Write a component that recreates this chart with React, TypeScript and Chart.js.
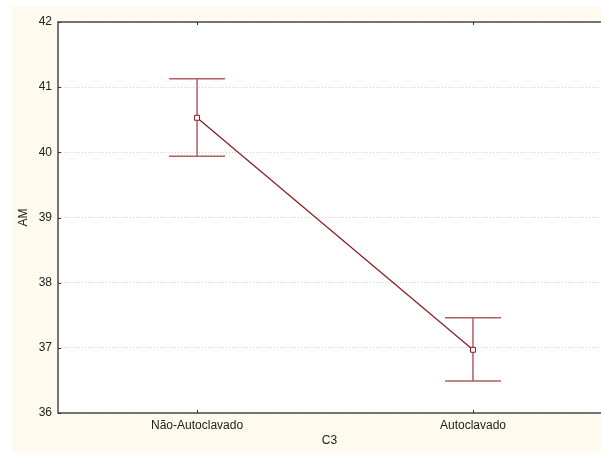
import React, { useEffect, useRef } from "react";
import { Chart, registerables } from "chart.js";

Chart.register(...registerables);

const categories = ["Não-Autoclavado", "Autoclavado"];
const means = [40.53, 36.97];
const upper = [41.13, 37.46];
const lower = [39.94, 36.49];
const yTicks = [36, 37, 38, 39, 40, 41, 42];

const RED = "#8b1a1e";
const ERR = "rgba(150,40,48,0.75)";

const framePlugin = {
  id: "frame",
  beforeDraw(chart: any) {
    const { ctx, chartArea } = chart;
    ctx.save();
    ctx.fillStyle = "#fffaee";
    ctx.fillRect(12, 6, chart.width - 12, chart.height - 8);
    ctx.fillStyle = "#ffffff";
    ctx.fillRect(chartArea.left, chartArea.top, chartArea.right - chartArea.left, chartArea.bottom - chartArea.top);
    ctx.restore();
  },
  beforeDatasetsDraw(chart: any) {
    const { ctx } = chart;
    const xs = chart.scales.x;
    const ys = chart.scales.y;
    ctx.save();
    ctx.strokeStyle = ERR;
    ctx.lineWidth = 1.5;
    for (let i = 0; i < means.length; i++) {
      const x = xs.getPixelForValue(i);
      const yh = ys.getPixelForValue(upper[i]);
      const yl = ys.getPixelForValue(lower[i]);
      ctx.beginPath();
      ctx.moveTo(x, yh);
      ctx.lineTo(x, yl);
      ctx.moveTo(x - 28, yh);
      ctx.lineTo(x + 28, yh);
      ctx.moveTo(x - 28, yl);
      ctx.lineTo(x + 28, yl);
      ctx.stroke();
    }
    ctx.restore();
  },
  afterDraw(chart: any) {
    const { ctx, chartArea } = chart;
    const xs = chart.scales.x;
    const ys = chart.scales.y;
    ctx.save();
    ctx.strokeStyle = "#4a4a4a";
    ctx.lineWidth = 1.5;
    ctx.beginPath();
    ctx.moveTo(chartArea.right, chartArea.top);
    ctx.lineTo(chartArea.left, chartArea.top);
    ctx.lineTo(chartArea.left, chartArea.bottom);
    ctx.lineTo(chartArea.right, chartArea.bottom);
    ctx.stroke();
    ctx.lineWidth = 1;
    ctx.strokeStyle = "#333";
    ctx.beginPath();
    for (const t of yTicks) {
      const y = Math.round(ys.getPixelForValue(t)) + 0.5;
      ctx.moveTo(chartArea.left, y);
      ctx.lineTo(chartArea.left + 3, y);
    }
    for (let i = 0; i < categories.length; i++) {
      const x = Math.round(xs.getPixelForValue(i)) + 0.5;
      ctx.moveTo(x, chartArea.bottom);
      ctx.lineTo(x, chartArea.bottom - 3);
      ctx.moveTo(x, chartArea.top);
      ctx.lineTo(x, chartArea.top + 3);
    }
    ctx.stroke();
    ctx.restore();
  },
};

export default function App() {
  const ref = useRef<HTMLCanvasElement>(null);
  useEffect(() => {
    if (!ref.current) return;
    const font = { family: "'Liberation Sans', Arial, sans-serif", size: 12 };
    const chart = new Chart(ref.current, {
      type: "line",
      data: {
        datasets: [
          {
            data: means.map((m, i) => ({ x: i, y: m })),
            borderColor: RED,
            borderWidth: 1.2,
            pointStyle: "rect",
            pointRadius: 3.5,
            pointBackgroundColor: "#ffffff",
            pointBorderColor: RED,
            pointBorderWidth: 1,
            tension: 0,
          },
        ],
      },
      options: {
        animation: false,
        responsive: false,
        devicePixelRatio: 1,
        layout: { autoPadding: false, padding: { left: 12, top: 22, right: 0, bottom: 0 } },
        plugins: { legend: { display: false }, tooltip: { enabled: false } },
        scales: {
          x: {
            type: "linear",
            min: -0.504,
            max: 1.464,
            afterBuildTicks: (s: any) => {
              s.ticks = categories.map((_, i) => ({ value: i }));
            },
            afterFit: (s: any) => {
              s.height = 42;
              s.paddingLeft = 0;
              s.paddingRight = 0;
            },
            ticks: {
              callback: (v: any) => categories[v as number] ?? "",
              font,
              color: "#222",
              padding: 5,
              maxRotation: 0,
              autoSkip: false,
            },
            grid: { display: false, drawTicks: false },
            border: { display: false },
            title: { display: true, text: "C3", font, color: "#222", padding: { top: 0, bottom: 7 } },
          },
          y: {
            min: 36,
            max: 42,
            afterBuildTicks: (s: any) => {
              s.ticks = yTicks.map((v) => ({ value: v }));
            },
            afterFit: (s: any) => {
              s.width = 46;
              s.paddingTop = 0;
              s.paddingBottom = 0;
            },
            ticks: { font, color: "#222", padding: 6 },
            grid: { color: "#cfcfcf", lineWidth: 1, drawTicks: false },
            border: { display: false, dash: [1, 2] },
            title: { display: true, text: "AM", font, color: "#222", padding: 4 },
          },
        },
      },
      plugins: [framePlugin],
    });
    return () => chart.destroy();
  }, []);
  return (
    <div style={{ position: "fixed", left: 0, top: 0, width: 601, height: 455 }}>
      <canvas ref={ref} width={601} height={455} style={{ display: "block" }} />
    </div>
  );
}
